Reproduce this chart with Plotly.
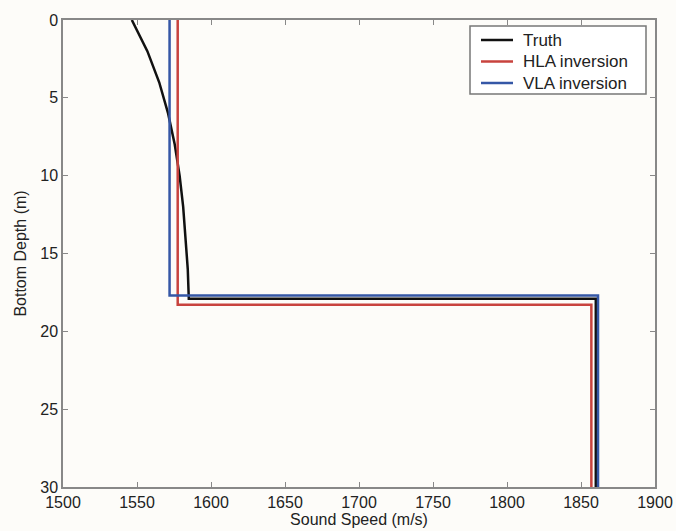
import plotly.graph_objects as go

# Truth profile
truth_speed = [1546.5, 1557, 1565, 1571, 1575.5, 1578.8, 1581.2, 1583, 1584.3, 1585, 1860, 1860]
truth_depth = [0, 2, 4, 6, 8, 10, 12, 14, 16, 17.9, 17.9, 30]

# HLA inversion
hla_speed = [1577.5, 1577.5, 1857, 1857]
hla_depth = [0, 18.3, 18.3, 30]

# VLA inversion
vla_speed = [1572, 1572, 1861.5, 1861.5]
vla_depth = [0, 17.7, 17.7, 30]

x_ticks = [1500, 1550, 1600, 1650, 1700, 1750, 1800, 1850, 1900]
y_ticks = [0, 5, 10, 15, 20, 25, 30]

names = ["Truth", "HLA inversion", "VLA inversion"]
colors = ["#111111", "#c8433e", "#3557a6"]

W, H = 676, 531
L, R, T, B = 63, 21, 20, 44
PW, PH = W - L - R, H - T - B


def px(x):
    return (x - L) / PW


def py(y):
    return 1 - (y - T) / PH


fig = go.Figure()
for sx, sy, nm, col in [(truth_speed, truth_depth, names[0], colors[0]),
                        (hla_speed, hla_depth, names[1], colors[1]),
                        (vla_speed, vla_depth, names[2], colors[2])]:
    fig.add_trace(go.Scatter(x=sx, y=sy, mode="lines", name=nm,
                             line=dict(color=col, width=2.5), showlegend=False))

axis_common = dict(showgrid=False, zeroline=False, showline=True, linecolor="#888888",
                   linewidth=1.5, mirror="ticks", ticks="inside", ticklen=5,
                   tickcolor="#888888", automargin=False,
                   tickfont=dict(family="Liberation Sans, Arial", size=16, color="#222"))

shapes = [dict(type="rect", xref="paper", yref="paper",
               x0=px(470), x1=px(646), y0=py(94), y1=py(26),
               line=dict(color="#777777", width=1.5), fillcolor="#ffffff", layer="above")]
annotations = []
for i, (nm, col) in enumerate(zip(names, colors)):
    yy = 40 + i * 21.5
    shapes.append(dict(type="line", xref="paper", yref="paper",
                       x0=px(481), x1=px(513), y0=py(yy), y1=py(yy),
                       line=dict(color=col, width=2.5), layer="above"))
    annotations.append(dict(xref="paper", yref="paper", x=px(521), y=py(yy),
                            xanchor="left", yanchor="middle", text=nm, showarrow=False,
                            font=dict(family="Liberation Sans, Arial", size=17, color="#222")))

fig.update_layout(
    width=W, height=H,
    margin=dict(l=L, r=R, t=T, b=B),
    paper_bgcolor="#fdfcf9", plot_bgcolor="#fdfcf9",
    font=dict(family="Liberation Sans, Arial", size=16, color="#222"),
    xaxis=dict(range=[1500, 1900], tickvals=x_ticks,
               title=dict(text="Sound Speed (m/s)", standoff=1, font=dict(size=16)), **axis_common),
    yaxis=dict(range=[30, 0], tickvals=y_ticks,
               title=dict(text="Bottom Depth (m)", standoff=10, font=dict(size=16)), **axis_common),
    shapes=shapes,
    annotations=annotations,
    showlegend=False,
)

fig.write_html("out.html")
